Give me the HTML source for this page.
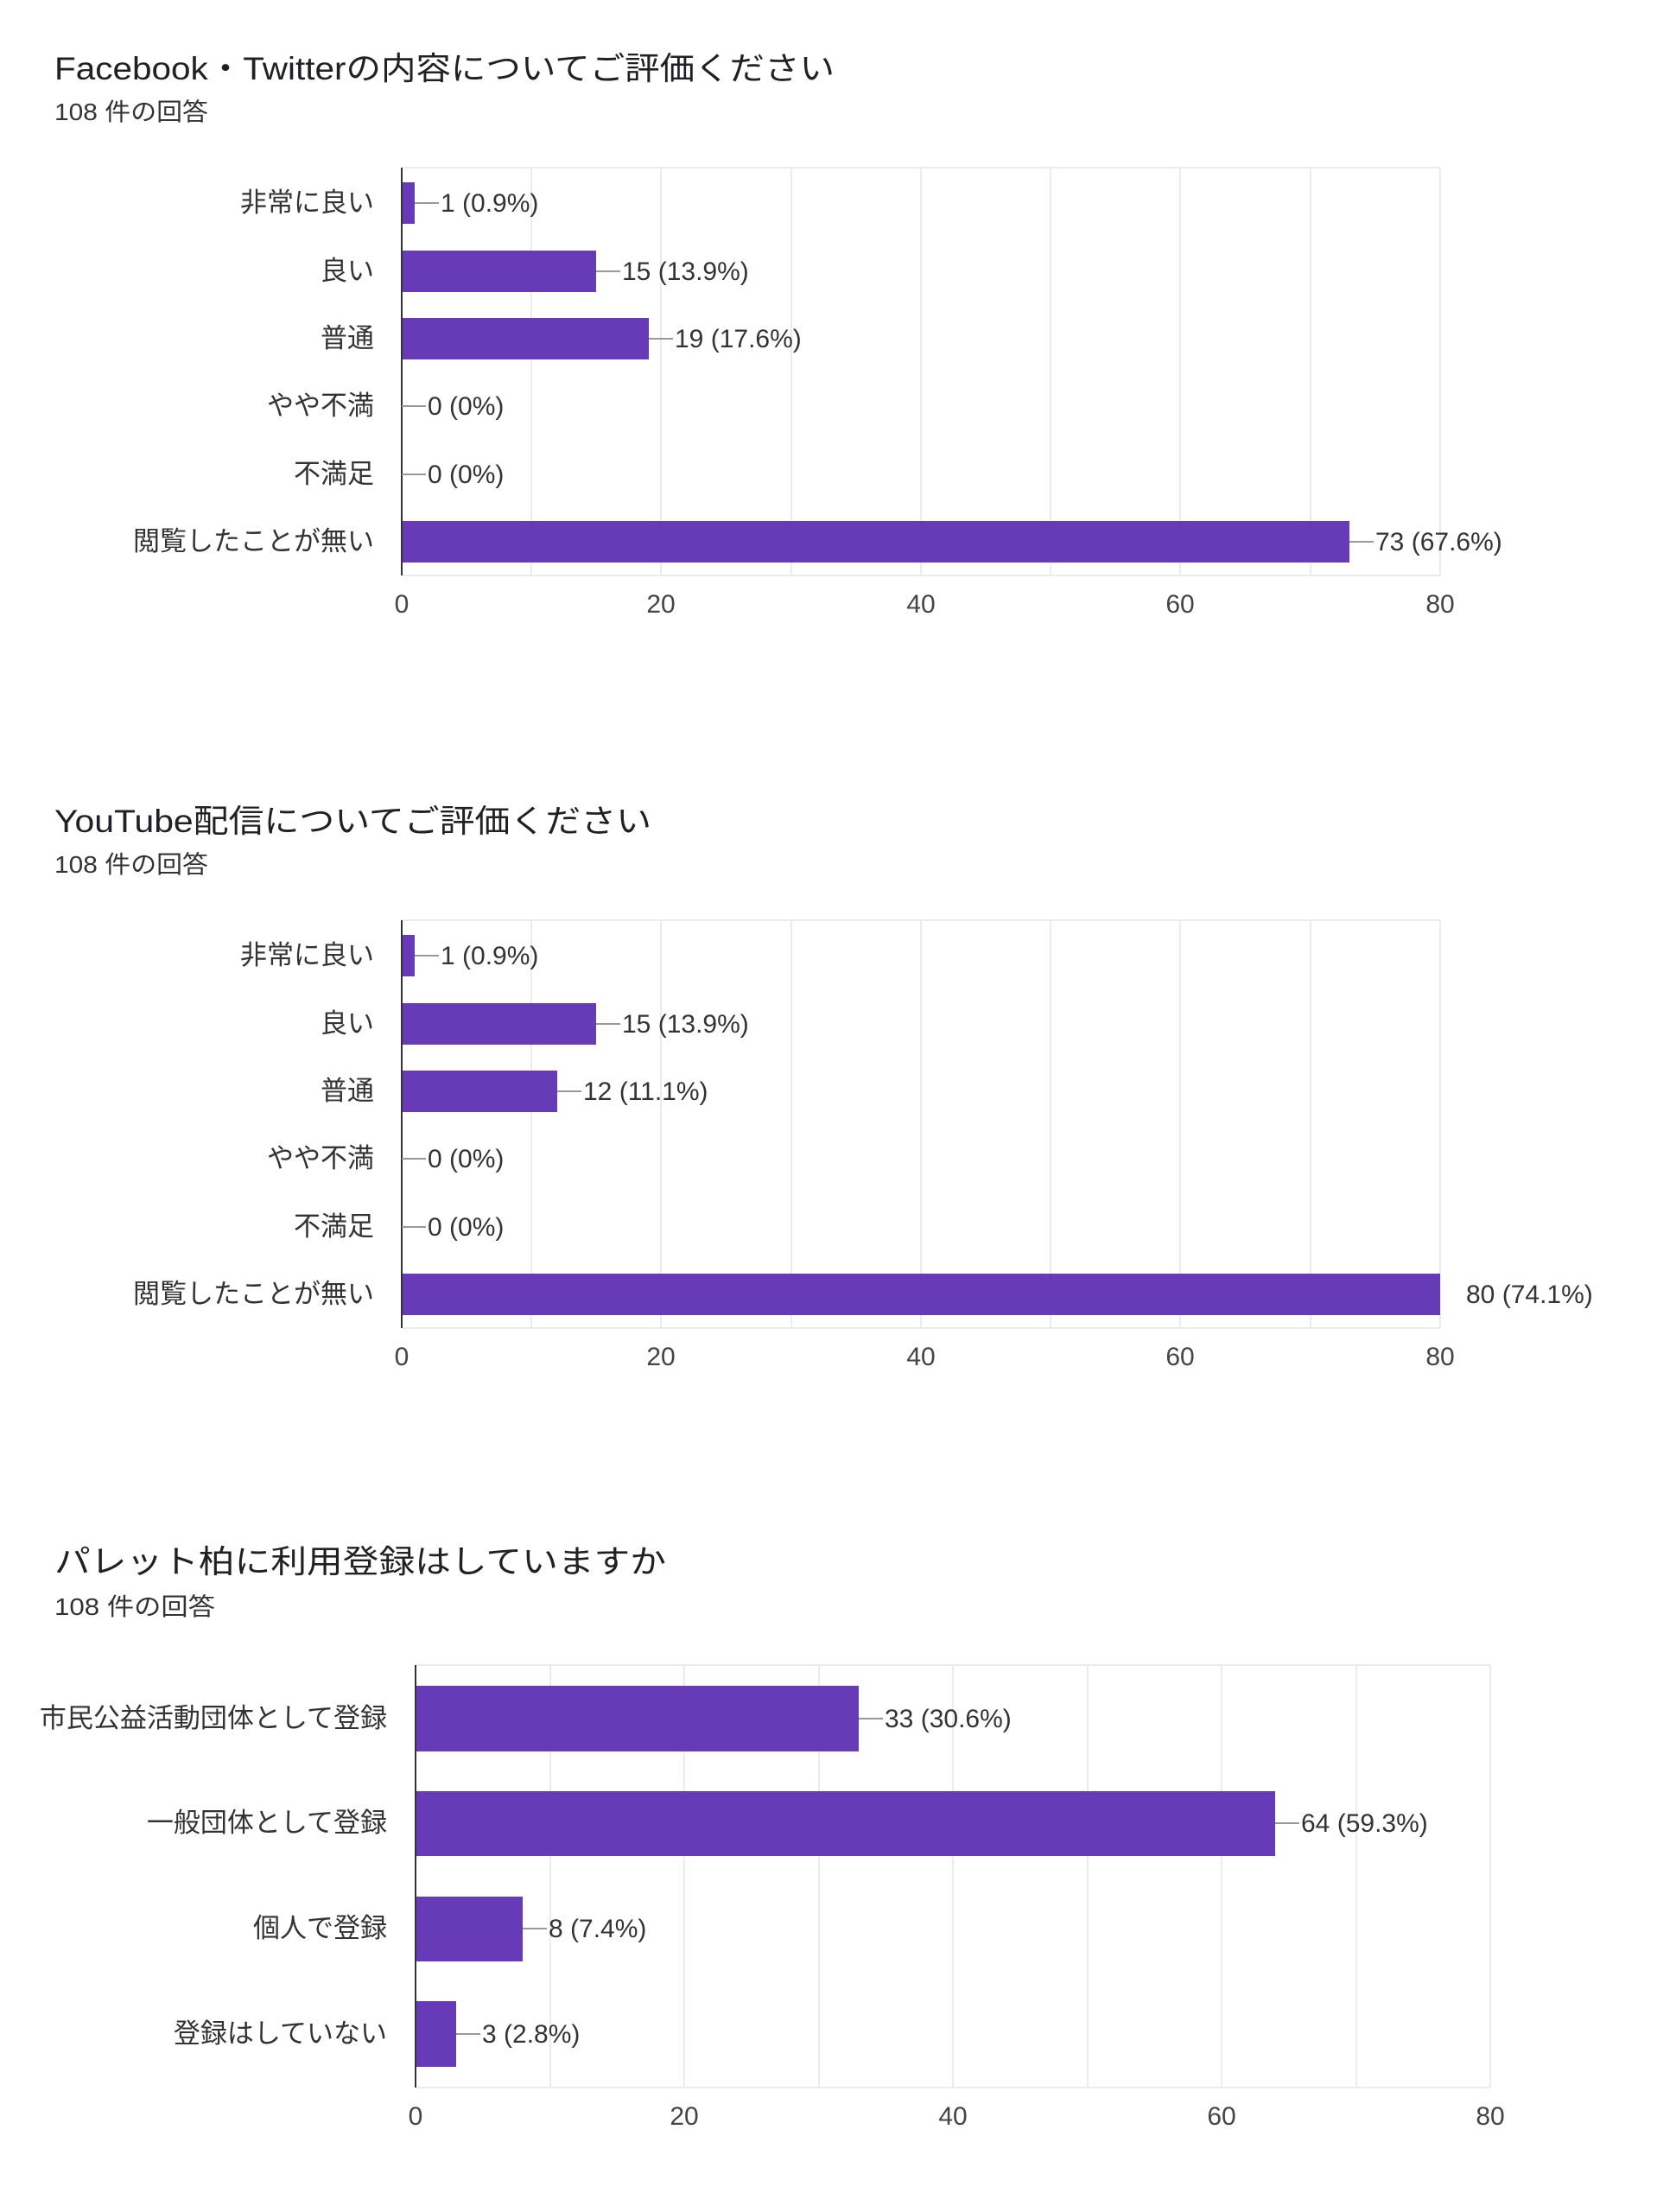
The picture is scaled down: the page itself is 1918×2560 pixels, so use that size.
<!DOCTYPE html>
<html><head><meta charset="utf-8"><style>
html,body{margin:0;padding:0;background:#fff;}
svg{display:block;}
text{font-family:"Liberation Sans","Noto Sans CJK JP",sans-serif;}
</style></head><body>
<svg width="1918" height="2560" viewBox="0 0 1918 2560" xmlns="http://www.w3.org/2000/svg">
<g id="c1">
<text x="63" y="92" font-size="37" fill="#202124" textLength="903" lengthAdjust="spacingAndGlyphs">Facebook・Twitterの内容についてご評価ください</text>
<text x="63" y="139" font-size="28" fill="#333" textLength="178" lengthAdjust="spacingAndGlyphs">108 件の回答</text>
<g stroke="#ececec" stroke-width="2">
<line x1="615" y1="194" x2="615" y2="666"/><line x1="765" y1="194" x2="765" y2="666"/><line x1="916" y1="194" x2="916" y2="666"/><line x1="1066" y1="194" x2="1066" y2="666"/><line x1="1216" y1="194" x2="1216" y2="666"/><line x1="1366" y1="194" x2="1366" y2="666"/><line x1="1517" y1="194" x2="1517" y2="666"/><line x1="1667" y1="194" x2="1667" y2="666"/>
<line x1="465" y1="194" x2="1667" y2="194"/><line x1="465" y1="666" x2="1667" y2="666"/>
</g>
<g fill="#673ab7">
<rect x="465" y="211" width="15" height="48"/>
<rect x="465" y="290" width="225" height="48"/>
<rect x="465" y="368" width="286" height="48"/>
<rect x="465" y="603" width="1097" height="48"/>
</g>
<line x1="465" y1="194" x2="465" y2="666" stroke="#333" stroke-width="2"/>
<g stroke="#999" stroke-width="2">
<line x1="480" y1="235" x2="508" y2="235"/><line x1="690" y1="314" x2="718" y2="314"/><line x1="751" y1="392" x2="779" y2="392"/><line x1="465" y1="470" x2="493" y2="470"/><line x1="465" y1="549" x2="493" y2="549"/><line x1="1562" y1="627" x2="1590" y2="627"/>
</g>
<g font-size="30" fill="#333">
<text x="510" y="245">1 (0.9%)</text><text x="720" y="324">15 (13.9%)</text><text x="781" y="402">19 (17.6%)</text><text x="495" y="480">0 (0%)</text><text x="495" y="559">0 (0%)</text><text x="1592" y="637">73 (67.6%)</text>
</g>
<g font-size="31" fill="#333" text-anchor="end">
<text x="433" y="245">非常に良い</text><text x="433" y="324">良い</text><text x="433" y="402">普通</text><text x="433" y="480">やや不満</text><text x="433" y="559">不満足</text><text x="433" y="637">閲覧したことが無い</text>
</g>
<g font-size="30" fill="#444" text-anchor="middle">
<text x="465" y="709">0</text><text x="765" y="709">20</text><text x="1066" y="709">40</text><text x="1366" y="709">60</text><text x="1667" y="709">80</text>
</g>
</g>
<g id="c2" transform="translate(0,871)">
<text x="63" y="92" font-size="37" fill="#202124" textLength="691" lengthAdjust="spacingAndGlyphs">YouTube配信についてご評価ください</text>
<text x="63" y="139" font-size="28" fill="#333" textLength="178" lengthAdjust="spacingAndGlyphs">108 件の回答</text>
<g stroke="#ececec" stroke-width="2">
<line x1="615" y1="194" x2="615" y2="666"/><line x1="765" y1="194" x2="765" y2="666"/><line x1="916" y1="194" x2="916" y2="666"/><line x1="1066" y1="194" x2="1066" y2="666"/><line x1="1216" y1="194" x2="1216" y2="666"/><line x1="1366" y1="194" x2="1366" y2="666"/><line x1="1517" y1="194" x2="1517" y2="666"/><line x1="1667" y1="194" x2="1667" y2="666"/>
<line x1="465" y1="194" x2="1667" y2="194"/><line x1="465" y1="666" x2="1667" y2="666"/>
</g>
<g fill="#673ab7">
<rect x="465" y="211" width="15" height="48"/>
<rect x="465" y="290" width="225" height="48"/>
<rect x="465" y="368" width="180" height="48"/>
<rect x="465" y="603" width="1202" height="48"/>
</g>
<line x1="465" y1="194" x2="465" y2="666" stroke="#333" stroke-width="2"/>
<g stroke="#999" stroke-width="2">
<line x1="480" y1="235" x2="508" y2="235"/><line x1="690" y1="314" x2="718" y2="314"/><line x1="645" y1="392" x2="673" y2="392"/><line x1="465" y1="470" x2="493" y2="470"/><line x1="465" y1="549" x2="493" y2="549"/>
</g>
<g font-size="30" fill="#333">
<text x="510" y="245">1 (0.9%)</text><text x="720" y="324">15 (13.9%)</text><text x="675" y="402">12 (11.1%)</text><text x="495" y="480">0 (0%)</text><text x="495" y="559">0 (0%)</text><text x="1697" y="637">80 (74.1%)</text>
</g>
<g font-size="31" fill="#333" text-anchor="end">
<text x="433" y="245">非常に良い</text><text x="433" y="324">良い</text><text x="433" y="402">普通</text><text x="433" y="480">やや不満</text><text x="433" y="559">不満足</text><text x="433" y="637">閲覧したことが無い</text>
</g>
<g font-size="30" fill="#444" text-anchor="middle">
<text x="465" y="709">0</text><text x="765" y="709">20</text><text x="1066" y="709">40</text><text x="1366" y="709">60</text><text x="1667" y="709">80</text>
</g>
</g>
<g id="c3">
<text x="63" y="1820" font-size="37" fill="#202124" textLength="708" lengthAdjust="spacingAndGlyphs">パレット柏に利用登録はしていますか</text>
<text x="63" y="1869" font-size="28" fill="#333" textLength="186" lengthAdjust="spacingAndGlyphs">108 件の回答</text>
<g stroke="#ececec" stroke-width="2">
<line x1="637" y1="1927" x2="637" y2="2416"/><line x1="792" y1="1927" x2="792" y2="2416"/><line x1="948" y1="1927" x2="948" y2="2416"/><line x1="1103" y1="1927" x2="1103" y2="2416"/><line x1="1259" y1="1927" x2="1259" y2="2416"/><line x1="1414" y1="1927" x2="1414" y2="2416"/><line x1="1570" y1="1927" x2="1570" y2="2416"/><line x1="1725" y1="1927" x2="1725" y2="2416"/>
<line x1="481" y1="1927" x2="1725" y2="1927"/><line x1="481" y1="2416" x2="1725" y2="2416"/>
</g>
<g fill="#673ab7">
<rect x="481" y="1951" width="513" height="76"/>
<rect x="481" y="2073" width="995" height="75"/>
<rect x="481" y="2195" width="124" height="75"/>
<rect x="481" y="2316" width="47" height="76"/>
</g>
<line x1="481" y1="1927" x2="481" y2="2416" stroke="#333" stroke-width="2"/>
<g stroke="#999" stroke-width="2">
<line x1="994" y1="1989" x2="1022" y2="1989"/><line x1="1476" y1="2110" x2="1504" y2="2110"/><line x1="605" y1="2232" x2="633" y2="2232"/><line x1="528" y1="2354" x2="556" y2="2354"/>
</g>
<g font-size="30" fill="#333">
<text x="1024" y="1999">33 (30.6%)</text><text x="1506" y="2120">64 (59.3%)</text><text x="635" y="2242">8 (7.4%)</text><text x="558" y="2364">3 (2.8%)</text>
</g>
<g font-size="31" fill="#333" text-anchor="end">
<text x="448" y="1999">市民公益活動団体として登録</text><text x="448" y="2120">一般団体として登録</text><text x="448" y="2242">個人で登録</text><text x="448" y="2364">登録はしていない</text>
</g>
<g font-size="30" fill="#444" text-anchor="middle">
<text x="481" y="2459">0</text><text x="792" y="2459">20</text><text x="1103" y="2459">40</text><text x="1414" y="2459">60</text><text x="1725" y="2459">80</text>
</g>
</g>
</svg>
</body></html>
